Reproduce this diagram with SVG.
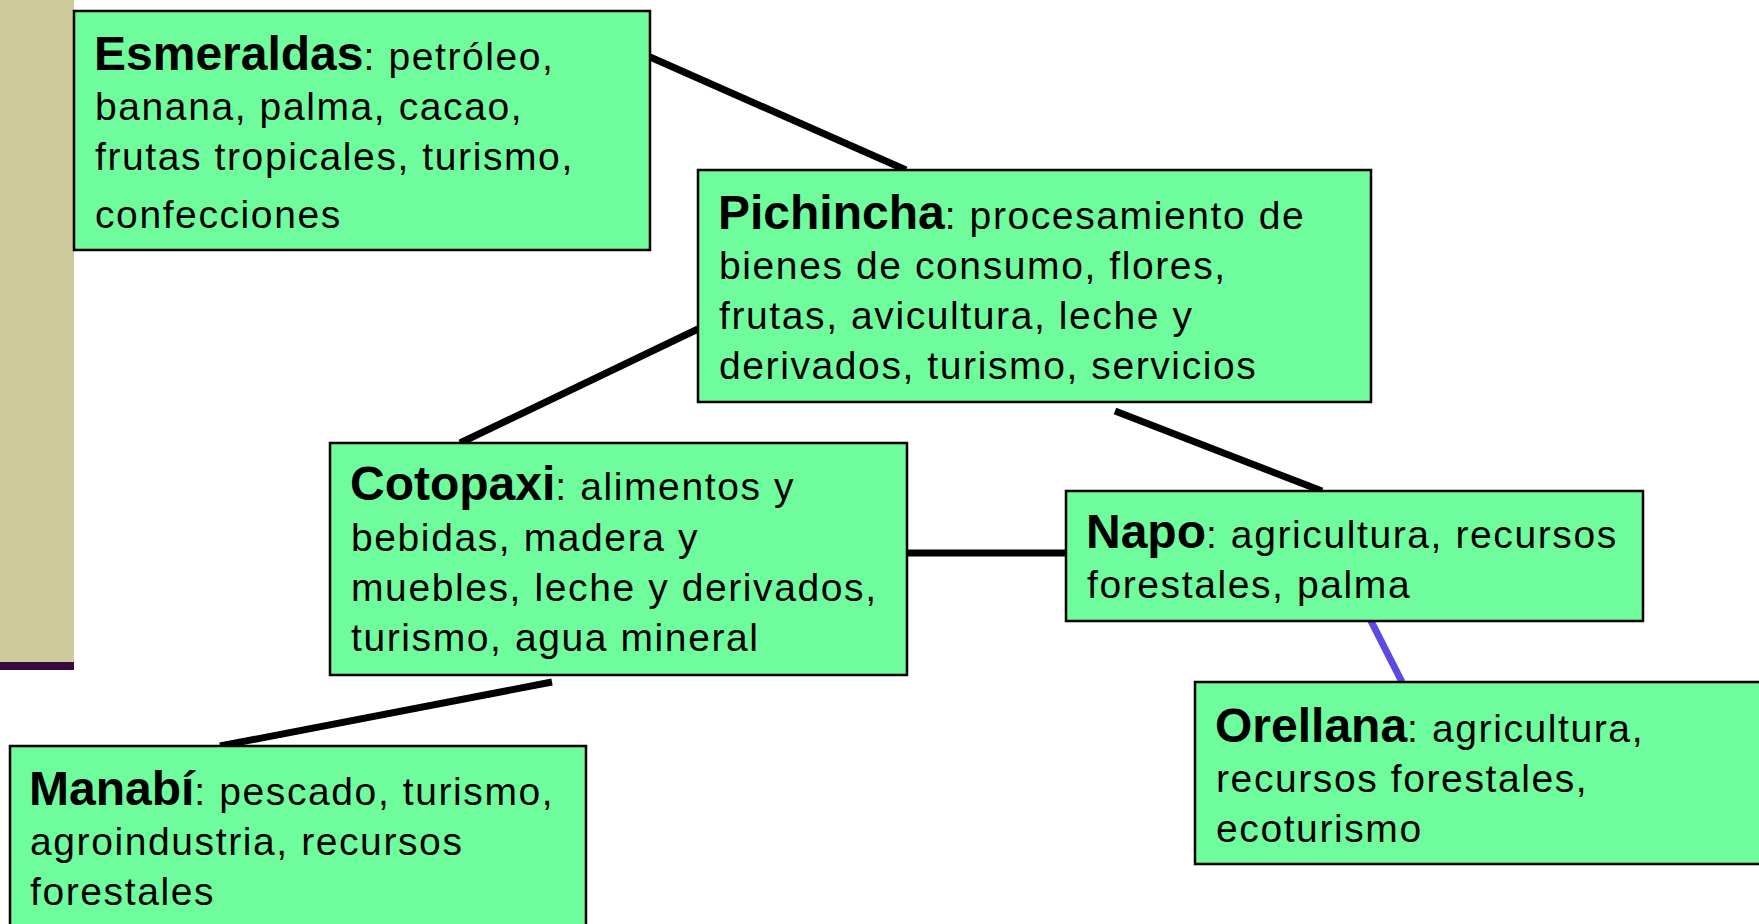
<svg xmlns="http://www.w3.org/2000/svg" width="1759" height="924" viewBox="0 0 1759 924">
<style>
.box{fill:#6ffc9c;stroke:#000;stroke-width:2.5}
.t{font-family:"Liberation Sans",Arial,sans-serif;font-size:39px;letter-spacing:1.6px;fill:#000}
.b{font-weight:bold;font-size:48px;letter-spacing:0}
.c{stroke:#000;stroke-width:7;fill:none}
.cb{stroke:#5b4be2;stroke-width:7;fill:none}
</style>
<rect width="1759" height="924" fill="#fff"/>
<g id="sidebar">
<rect x="0" y="0" width="74" height="662" fill="#cdca9c"/>
<rect x="0" y="662" width="74" height="8" fill="#3b0a3c"/>
</g>
<g id="connectors">
<line class="c" x1="650" y1="57" x2="906" y2="170"/>
<line class="c" x1="698" y1="329" x2="460" y2="443"/>
<line class="c" x1="1115" y1="411" x2="1322" y2="491"/>
<line class="c" x1="907" y1="553" x2="1066" y2="553"/>
<line class="c" x1="552" y1="682" x2="220" y2="746"/>
<line class="cb" x1="1370" y1="619" x2="1402" y2="682"/>
</g>
<g id="esmeraldas">
<rect class="box" x="74" y="11" width="576" height="239"/>
<text class="t"><tspan x="94" y="70"><tspan class="b">Esmeraldas</tspan>: petróleo,</tspan><tspan x="95" y="120">banana, palma, cacao,</tspan><tspan x="95" y="170">frutas tropicales, turismo,</tspan><tspan x="95" y="228">confecciones</tspan></text>
</g>
<g id="pichincha">
<rect class="box" x="698" y="170" width="673" height="232"/>
<text class="t"><tspan x="718" y="229"><tspan class="b">Pichincha</tspan>: procesamiento de</tspan><tspan x="719" y="279">bienes de consumo, flores,</tspan><tspan x="719" y="329">frutas, avicultura, leche y</tspan><tspan x="719" y="379">derivados, turismo, servicios</tspan></text>
</g>
<g id="cotopaxi">
<rect class="box" x="330" y="443" width="577" height="232"/>
<text class="t"><tspan x="350" y="500"><tspan class="b">Cotopaxi</tspan>: alimentos y</tspan><tspan x="351" y="551">bebidas, madera y</tspan><tspan x="351" y="601">muebles, leche y derivados,</tspan><tspan x="351" y="651">turismo, agua mineral</tspan></text>
</g>
<g id="napo">
<rect class="box" x="1066" y="491" width="577" height="130"/>
<text class="t"><tspan x="1086" y="548"><tspan class="b">Napo</tspan>: agricultura, recursos</tspan><tspan x="1087" y="598">forestales, palma</tspan></text>
</g>
<g id="orellana">
<rect class="box" x="1195" y="682" width="600" height="182"/>
<text class="t"><tspan x="1215" y="742"><tspan class="b">Orellana</tspan>: agricultura,</tspan><tspan x="1216" y="792">recursos forestales,</tspan><tspan x="1216" y="842">ecoturismo</tspan></text>
</g>
<g id="manabi">
<rect class="box" x="10" y="746" width="576" height="200"/>
<text class="t"><tspan x="29" y="805"><tspan class="b">Manabí</tspan>: pescado, turismo,</tspan><tspan x="30" y="855">agroindustria, recursos</tspan><tspan x="30" y="905">forestales</tspan></text>
</g>
</svg>
